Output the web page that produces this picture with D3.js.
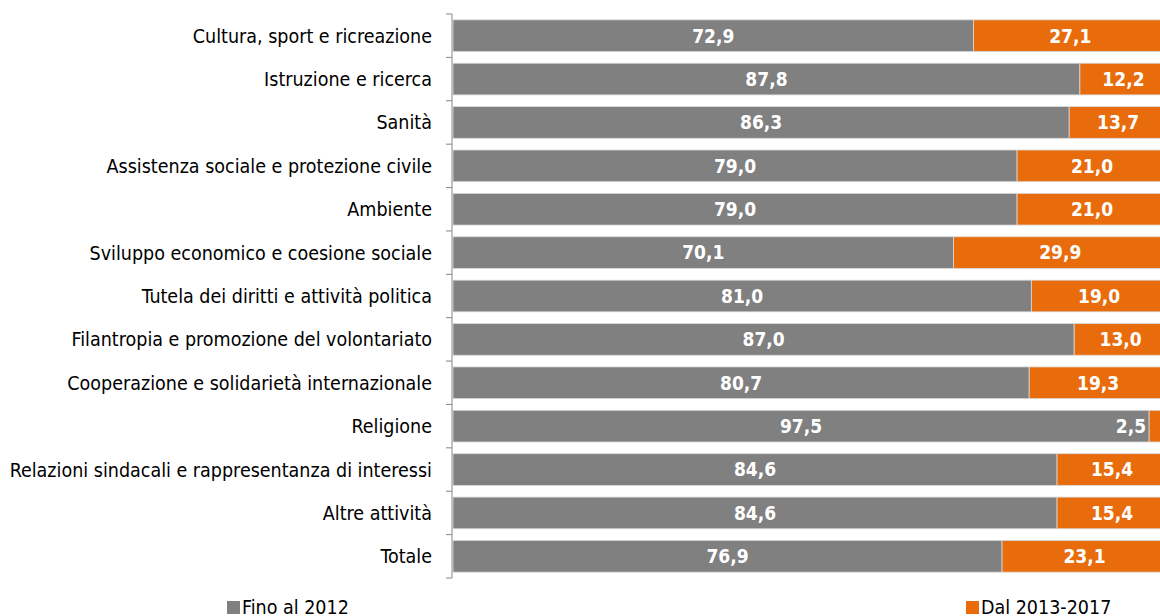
<!DOCTYPE html>
<html>
<head>
<meta charset="utf-8">
<script src="https://cdn.jsdelivr.net/npm/d3@7"></script>
<style>
  body { margin: 0; background: #fff; }
  svg text { font-family: "Liberation Sans Narrow", "Arial Narrow", "DejaVu Sans Condensed", sans-serif; }
</style>
</head>
<body>
<svg width="1160" height="616"></svg>
<script>
// categories, top to bottom
var categories = [
    "Cultura, sport e ricreazione",
    "Istruzione e ricerca",
    "Sanità",
    "Assistenza sociale e protezione civile",
    "Ambiente",
    "Sviluppo economico e coesione sociale",
    "Tutela dei diritti e attività politica",
    "Filantropia e promozione del volontariato",
    "Cooperazione e solidarietà internazionale",
    "Religione",
    "Relazioni sindacali e rappresentanza di interessi",
    "Altre attività ",
    "Totale"
];
var fino2012 = [72.9, 87.8, 86.3, 79.0, 79.0, 70.1, 81.0, 87.0, 80.7, 97.5, 84.6, 84.6, 76.9];
var dal2013 = [27.1, 12.2, 13.7, 21.0, 21.0, 29.9, 19.0, 13.0, 19.3, 2.5, 15.4, 15.4, 23.1];
var seriesNames = ["Fino al 2012", "Dal 2013-2017"];
var colors = ["#808080", "#E96C0C"];

var svg = d3.select('svg');

// plot area (the 100% end runs a little past the window edge, as in the original)
var plotLeft = 452, plotRight = 1167, plotTop = 14, plotBottom = 578;

var xScale = d3.scaleLinear().domain([0, 100]).range([plotLeft + 1, plotRight]);
var yScale = d3.scaleBand().domain(categories).range([plotTop, plotBottom]).paddingInner(0.27).paddingOuter(0.135);

// stacked rows built from the arrays
var rows = categories.map(function (c, i) {
    return { cat: c, a: fino2012[i], b: dal2013[i] };
});
var stack = d3.stack().keys(["a", "b"])(rows);

var fmt = function (v) { return d3.format(".1f")(v).replace(".", ","); };

stack.forEach(function (layer, k) {
    var g = svg.append('g');
    g.selectAll('rect').data(layer).enter().append('rect')
        .attr('x', function (d) { return xScale(d[0]); })
        .attr('y', function (d) { return yScale(d.data.cat); })
        .attr('width', function (d) { return xScale(d[1]) - xScale(d[0]); })
        .attr('height', yScale.bandwidth())
        .attr('fill', colors[k])
        .attr('stroke', '#d9d9d9')
        .attr('stroke-width', 0.8);

    // value labels, centred in each segment (small ones pushed left)
    g.selectAll('text').data(layer).enter().append('text')
        .attr('x', function (d) {
            var w = xScale(d[1]) - xScale(d[0]);
            if (w < 30) return xScale(d[0]) - 3;
            return (xScale(d[0]) + xScale(d[1])) / 2;
        })
        .attr('text-anchor', function (d) {
            return (xScale(d[1]) - xScale(d[0]) < 30) ? 'end' : 'middle';
        })
        .attr('y', function (d) { return yScale(d.data.cat) + yScale.bandwidth() / 2; })
        .attr('dy', '0.36em')
        .attr('fill', '#fff')
        .attr('font-weight', 'bold')
        .attr('font-size', 19)
        .text(function (d) { return fmt(d[1] - d[0]); });
});

// category axis on the left
var axisG = svg.append('g').attr('transform', 'translate(' + plotLeft + ',0)');
axisG.append('line')
    .attr('x1', 0).attr('x2', 0).attr('y1', plotTop).attr('y2', plotBottom)
    .attr('stroke', '#868686');
// tick marks between categories
var tickYs = categories.map(function (c) { return yScale(c) - yScale.step() * yScale.paddingInner() / 2; });
tickYs.push(plotBottom);
axisG.selectAll('.tk').data(tickYs).enter().append('line')
    .attr('x1', -6).attr('x2', 0)
    .attr('y1', function (d) { return d; }).attr('y2', function (d) { return d; })
    .attr('stroke', '#868686');
axisG.selectAll('.lbl').data(categories).enter().append('text')
    .attr('x', -20)
    .attr('y', function (c) { return yScale(c) + yScale.bandwidth() / 2; })
    .attr('dy', '0.36em')
    .attr('text-anchor', 'end')
    .attr('font-size', 19.5)
    .attr('fill', '#000')
    .text(function (c) { return c; });

// legend
var legendX = [227, 966];
seriesNames.forEach(function (name, k) {
    var lg = svg.append('g').attr('transform', 'translate(' + legendX[k] + ',601)');
    lg.append('rect').attr('width', 13).attr('height', 13).attr('fill', colors[k]);
    lg.append('text').attr('x', 15).attr('y', 13).attr('font-size', 19.5).attr('fill', '#000').text(name);
});
</script>
</body>
</html>
